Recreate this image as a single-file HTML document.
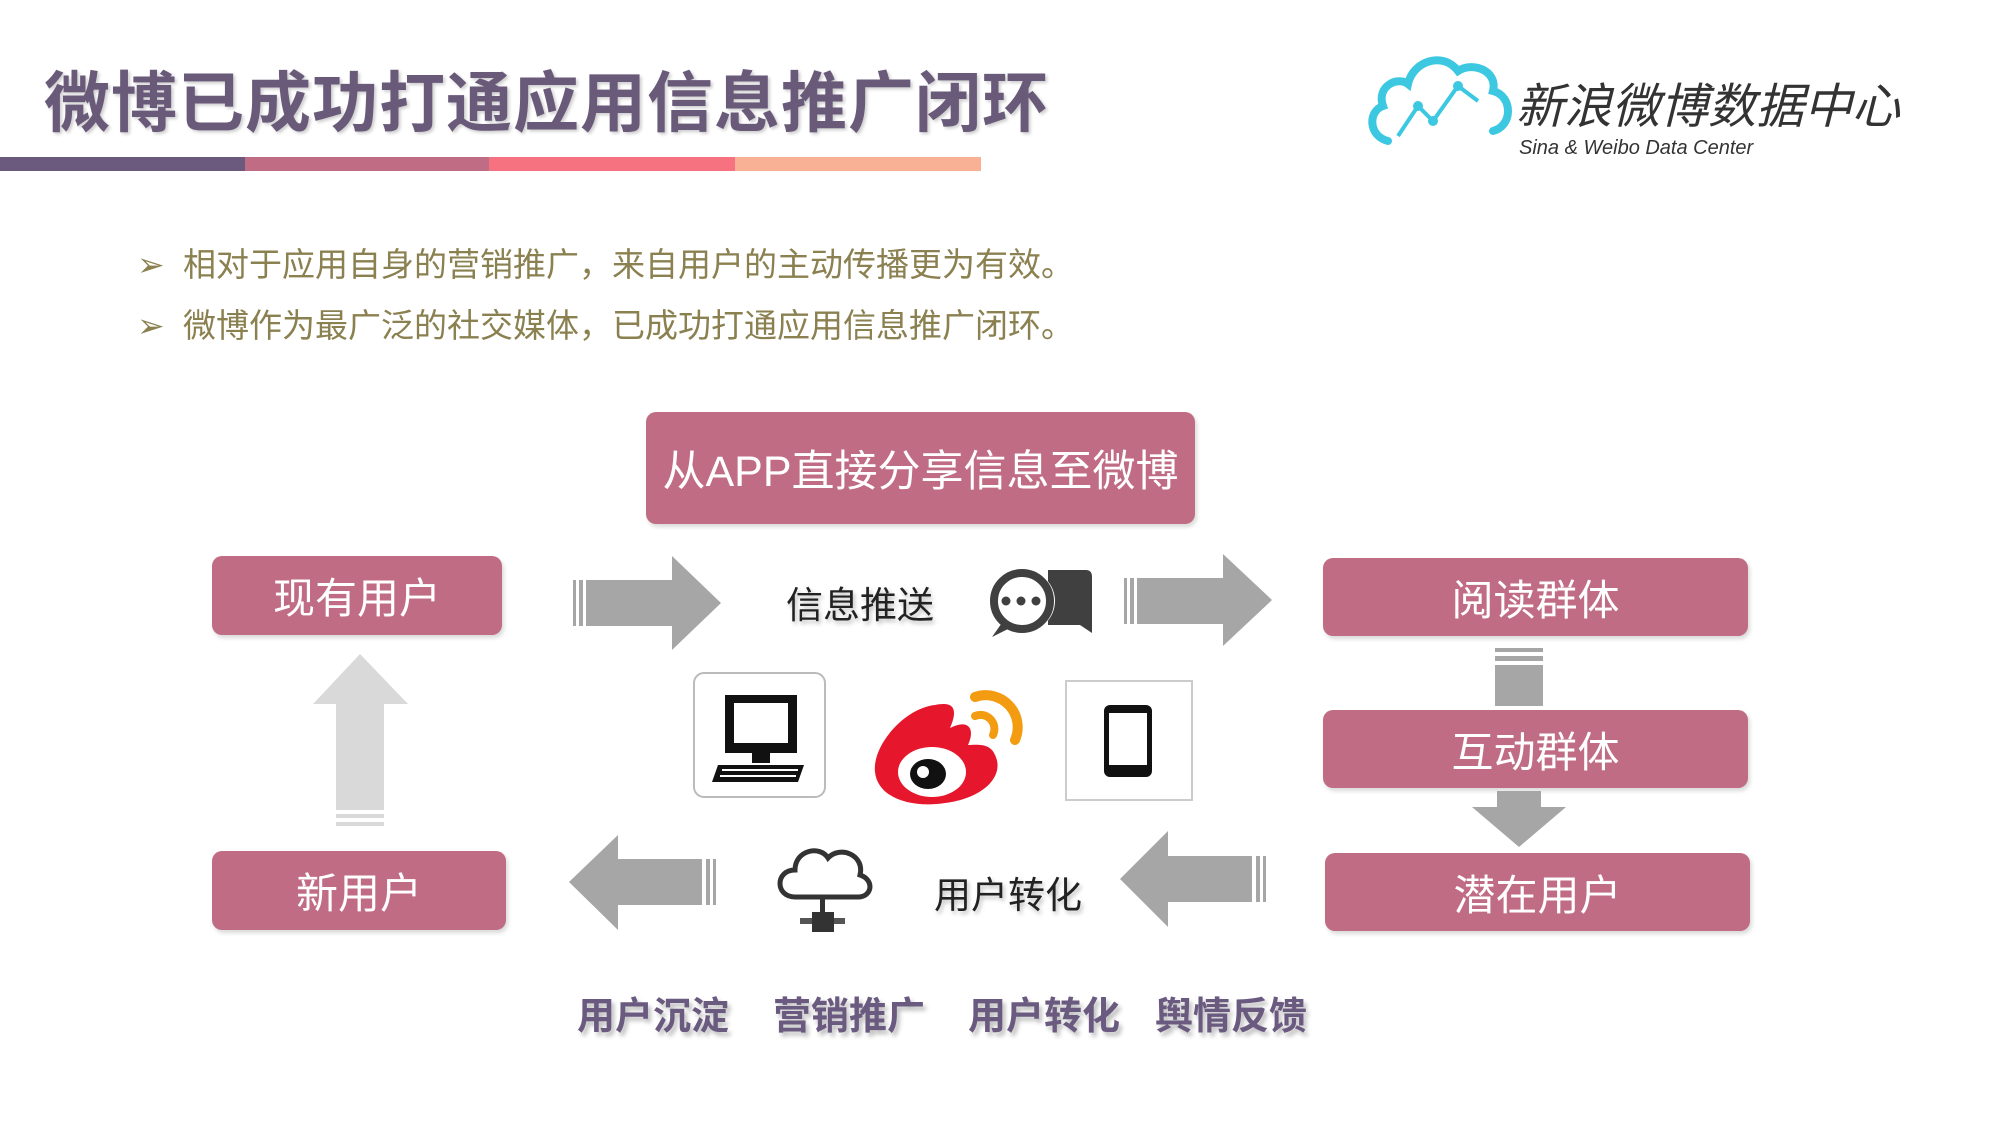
<!DOCTYPE html>
<html><head><meta charset="utf-8">
<style>
*{margin:0;padding:0;box-sizing:border-box}
body{width:2000px;height:1125px;background:#fff;position:relative;overflow:hidden;font-family:"Liberation Sans","Noto Sans CJK SC",sans-serif}
.a{position:absolute}
.box{position:absolute;background:#c06c84;border-radius:10px;color:#fff;display:flex;align-items:center;justify-content:center;font-size:42px;box-shadow:2px 3px 4px rgba(0,0,0,.15)}
.lbl{position:absolute;font-size:37px;color:#222;text-shadow:2px 3px 4px rgba(0,0,0,.25);white-space:nowrap}
.bot{position:absolute;top:985px;font-size:38px;font-weight:bold;color:#6a5a80;text-shadow:3px 4px 4px rgba(0,0,0,.25);white-space:nowrap}
.bl{position:absolute;left:137px;font-size:33px;color:#8a8050;white-space:nowrap}
</style></head><body>
<div class="a" style="left:44px;top:50px;font-size:66px;font-weight:bold;color:#6a5a7a;letter-spacing:1px;white-space:nowrap;text-shadow:2px 2px 3px rgba(0,0,0,.2)">微博已成功打通应用信息推广闭环</div>
<div class="a" style="left:0;top:157px;width:245px;height:14px;background:#6b5a7d"></div>
<div class="a" style="left:245px;top:157px;width:244px;height:14px;background:#c06c84"></div>
<div class="a" style="left:489px;top:157px;width:246px;height:14px;background:#f67280"></div>
<div class="a" style="left:735px;top:157px;width:246px;height:14px;background:#f8b195"></div>

<svg class="a" style="left:1368px;top:46px" width="150" height="105" viewBox="0 0 150 105">
<path d="M20 95 C0 90 0 65 15 60 C8 40 30 30 40 38 C45 15 75 5 90 25 C105 15 130 25 125 45 C145 50 145 80 125 85" fill="none" stroke="#3cc8e0" stroke-width="8" stroke-linecap="round"/>
<path d="M30 90 L50 60 L65 75 L90 40 L110 55" fill="none" stroke="#3cc8e0" stroke-width="4"/>
<circle cx="50" cy="60" r="5" fill="#3cc8e0"/><circle cx="65" cy="75" r="5" fill="#3cc8e0"/><circle cx="90" cy="40" r="5" fill="#3cc8e0"/>
</svg>
<div class="a" style="left:1516px;top:80px;font-size:48px;line-height:56px;font-style:italic;color:#333;white-space:nowrap">新浪微博数据中心</div>
<div class="a" style="left:1519px;top:136px;font-size:20px;line-height:24px;font-style:italic;color:#333;white-space:nowrap">Sina &amp; Weibo Data Center</div>

<div class="bl" style="top:238px">➢&nbsp; 相对于应用自身的营销推广，来自用户的主动传播更为有效。</div>
<div class="bl" style="top:299px">➢&nbsp; 微博作为最广泛的社交媒体，已成功打通应用信息推广闭环。</div>

<div class="box" style="left:646px;top:412px;width:549px;height:112px;font-size:43px">从APP直接分享信息至微博</div>
<div class="box" style="left:212px;top:556px;width:290px;height:79px">现有用户</div>
<div class="box" style="left:1323px;top:558px;width:425px;height:78px">阅读群体</div>
<div class="box" style="left:1323px;top:710px;width:425px;height:78px">互动群体</div>
<div class="box" style="left:1325px;top:853px;width:425px;height:78px">潜在用户</div>
<div class="box" style="left:212px;top:851px;width:294px;height:79px">新用户</div>

<svg class="a" style="left:0;top:0" width="2000" height="1125">
<g fill="#a6a6a6">
<rect x="573" y="580" width="3" height="46"/><rect x="579" y="580" width="4" height="46"/><rect x="586" y="580" width="90" height="46"/><polygon points="672,556 721,603 672,650"/>
<rect x="1124" y="578" width="3" height="46"/><rect x="1130" y="578" width="4" height="46"/><rect x="1137" y="578" width="90" height="46"/><polygon points="1223,554 1272,600 1223,646"/>
<polygon points="618,835 569,882 618,930"/><rect x="614" y="859" width="88" height="46"/><rect x="706" y="859" width="4" height="46"/><rect x="713" y="859" width="3" height="46"/>
<polygon points="1168,831 1120,879 1168,927"/><rect x="1164" y="856" width="88" height="46"/><rect x="1256" y="856" width="4" height="46"/><rect x="1263" y="856" width="3" height="46"/>
<rect x="1495" y="648" width="48" height="4"/><rect x="1495" y="656" width="48" height="5"/><rect x="1495" y="665" width="48" height="41"/>
<rect x="1497" y="791" width="44" height="18"/><polygon points="1472,807 1566,807 1519,847"/>
</g>
<g fill="#d9d9d9">
<polygon points="360,654 408,704 384,704 384,810 336,810 336,704 313,704"/>
<rect x="336" y="814" width="48" height="4"/><rect x="336" y="822" width="48" height="4"/>
</g>
<g transform="translate(986,565)">
<path d="M62 5 H100 Q106 5 106 12 V68 L94 60 H62 Z" fill="#404040"/>
<circle cx="38" cy="36" r="31" fill="#fff"/>
<circle cx="36" cy="36" r="28" fill="none" stroke="#404040" stroke-width="8"/>
<polygon points="6,72 18,55 26,62" fill="#404040"/>
<circle cx="20" cy="36" r="4.5" fill="#404040"/><circle cx="35" cy="36" r="4.5" fill="#404040"/><circle cx="50" cy="36" r="4.5" fill="#404040"/>
</g>
<rect x="694" y="673" width="131" height="124" rx="10" fill="#fff" stroke="#bbb" stroke-width="2"/>
<rect x="725" y="695" width="72" height="58" fill="#111"/><rect x="734" y="703" width="54" height="40" fill="#fff"/>
<rect x="752" y="753" width="18" height="10" fill="#111"/>
<polygon points="718,765 804,765 798,782 712,782" fill="#111"/>
<g fill="#fff"><rect x="722" y="769" width="76" height="2"/><rect x="720" y="775" width="76" height="2"/></g>
<path d="M935 705 C905 708 872 745 875 772 C878 800 915 808 945 803 C985 798 1005 775 995 755 C990 742 975 745 968 745 C975 730 970 718 950 728 C960 705 950 702 935 705 Z" fill="#e6162d"/>
<ellipse cx="932" cy="772" rx="34" ry="25" fill="#fff"/>
<ellipse cx="928" cy="774" rx="18" ry="15" fill="#111"/>
<circle cx="923" cy="772" r="6" fill="#fff"/>
<path d="M975 697 A32 32 0 0 1 1015 740" fill="none" stroke="#f39c12" stroke-width="10" stroke-linecap="round"/>
<path d="M975 716 A14 14 0 0 1 993 735" fill="none" stroke="#f39c12" stroke-width="8" stroke-linecap="round"/>
<rect x="1066" y="681" width="126" height="119" fill="#fff" stroke="#ccc" stroke-width="2"/>
<rect x="1104" y="705" width="48" height="72" rx="6" fill="#111"/><rect x="1109" y="713" width="38" height="52" fill="#fff"/>
<g fill="none" stroke="#333" stroke-width="5">
<path d="M795 897 C775 897 775 870 795 870 C795 850 820 845 828 858 C840 845 865 855 860 875 C875 880 872 897 858 897 Z"/>
</g>
<rect x="820" y="897" width="5" height="18" fill="#333"/>
<rect x="800" y="918" width="45" height="6" fill="#555"/><rect x="812" y="912" width="22" height="20" fill="#333"/>
</svg>

<div class="lbl" style="left:786px;top:575px">信息推送</div>
<div class="lbl" style="left:934px;top:865px">用户转化</div>

<div class="bot" style="left:577px">用户沉淀</div>
<div class="bot" style="left:773px">营销推广</div>
<div class="bot" style="left:968px">用户转化</div>
<div class="bot" style="left:1155px">舆情反馈</div>
</body></html>
